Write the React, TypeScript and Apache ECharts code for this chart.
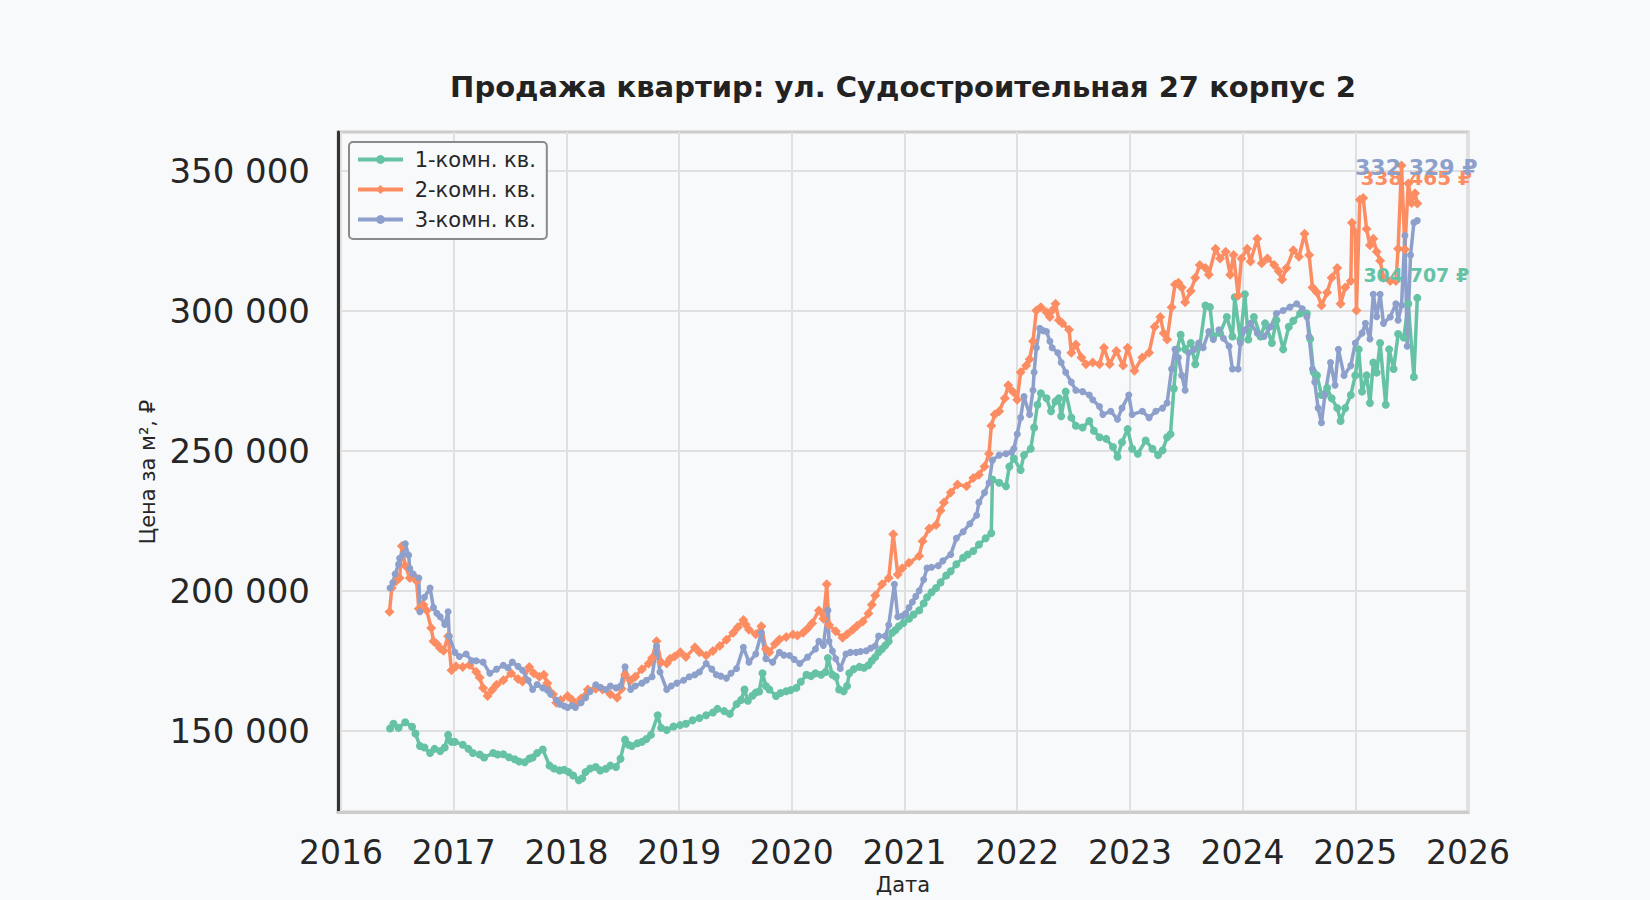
import React, { useEffect, useRef } from "react";
import * as echarts from "echarts";

const FONT = "DejaVu Sans";
const TITLE = "Продажа квартир: ул. Судостроительная 27 корпус 2";
const SERIES_NAMES = ["1-комн. кв.", "2-комн. кв.", "3-комн. кв."];
const COLORS = ["#66c2a5", "#fc8d62", "#8da0cb"];
const YEAR_TICKS = [2016, 2017, 2018, 2019, 2020, 2021, 2022, 2023, 2024, 2025, 2026];
const PRICE_TICKS = [150000, 200000, 250000, 300000, 350000];

// [decimal year, price per m²]
const oneRoom: [number, number][] = [
  [2016.435,150800],[2016.465,152500],[2016.51,151000],[2016.57,153000],[2016.63,151400],[2016.66,149000],[2016.70,144500],[2016.74,144000],[2016.79,142000],[2016.83,143500],[2016.88,142700],[2016.92,144000],[2016.95,148500],[2016.98,146000],[2017.01,146000],[2017.08,145000],[2017.13,143500],[2017.17,142000],[2017.23,141500],[2017.27,140400],[2017.35,142000],[2017.39,141500],[2017.44,141600],[2017.49,140500],[2017.54,139800],[2017.58,139000],[2017.63,138700],[2017.67,140000],[2017.70,140400],[2017.74,142000],[2017.79,143300],[2017.85,137500],[2017.89,136500],[2017.94,135800],[2017.98,136000],[2018.02,135200],[2018.06,134000],[2018.11,132300],[2018.14,133000],[2018.17,135200],[2018.21,136500],[2018.26,137000],[2018.30,135800],[2018.35,136400],[2018.39,137500],[2018.44,137000],[2018.48,140000],[2018.52,146800],[2018.55,145000],[2018.58,144500],[2018.63,145500],[2018.67,146000],[2018.71,147000],[2018.75,148500],[2018.81,155500],[2018.84,151000],[2018.89,150200],[2018.95,151500],[2019.01,152000],[2019.06,152500],[2019.12,153700],[2019.18,154500],[2019.24,155500],[2019.30,156500],[2019.34,157800],[2019.40,157000],[2019.45,156000],[2019.51,159500],[2019.55,161000],[2019.58,164700],[2019.61,160700],[2019.65,162500],[2019.68,163600],[2019.71,164000],[2019.74,170500],[2019.77,166000],[2019.80,164700],[2019.86,162400],[2019.90,163500],[2019.95,164100],[2019.99,164500],[2020.04,165300],[2020.08,167500],[2020.13,170000],[2020.17,169500],[2020.21,170500],[2020.26,170000],[2020.30,171000],[2020.32,176000],[2020.36,170000],[2020.39,169300],[2020.42,164700],[2020.46,164100],[2020.49,166000],[2020.51,170500],[2020.55,172000],[2020.60,172800],[2020.64,172500],[2020.68,173400],[2020.71,175000],[2020.74,176300],[2020.77,178000],[2020.80,179200],[2020.83,180500],[2020.86,182000],[2020.89,185000],[2020.92,186000],[2020.95,187300],[2020.99,188500],[2021.04,190000],[2021.08,191500],[2021.13,193000],[2021.17,195500],[2021.20,197700],[2021.24,199500],[2021.28,201000],[2021.32,203000],[2021.37,205500],[2021.41,207000],[2021.46,209500],[2021.52,211800],[2021.56,213000],[2021.61,214200],[2021.66,216500],[2021.72,218800],[2021.77,220600],[2021.78,239800],[2021.84,238600],[2021.90,237400],[2021.93,244400],[2021.97,247300],[2022.03,243200],[2022.06,248500],[2022.12,250800],[2022.15,258400],[2022.18,266500],[2022.21,270600],[2022.26,268800],[2022.30,264200],[2022.34,267700],[2022.37,268800],[2022.39,262400],[2022.43,271200],[2022.48,261900],[2022.52,259000],[2022.58,258400],[2022.64,260700],[2022.68,257200],[2022.73,254900],[2022.79,254300],[2022.85,251400],[2022.89,247900],[2022.93,253100],[2022.98,257800],[2023.02,250800],[2023.07,249000],[2023.14,253700],[2023.20,250800],[2023.25,248500],[2023.29,250200],[2023.33,254900],[2023.36,256000],[2023.39,272300],[2023.42,286300],[2023.45,291500],[2023.49,286300],[2023.54,288600],[2023.58,281000],[2023.62,287400],[2023.67,302000],[2023.71,301400],[2023.74,290900],[2023.80,292100],[2023.86,297900],[2023.91,290900],[2023.93,304900],[2023.98,289800],[2024.02,306000],[2024.05,289800],[2024.10,297900],[2024.16,290900],[2024.20,295600],[2024.26,288600],[2024.30,296700],[2024.36,286300],[2024.41,294400],[2024.45,296500],[2024.51,299100],[2024.57,299100],[2024.60,290000],[2024.63,278100],[2024.66,277000],[2024.70,270000],[2024.75,272500],[2024.79,268800],[2024.84,265300],[2024.87,260700],[2024.91,265300],[2024.96,270000],[2025.00,277000],[2025.03,286300],[2025.06,271200],[2025.10,277000],[2025.13,267100],[2025.16,281600],[2025.19,278000],[2025.22,288600],[2025.27,266500],[2025.30,286300],[2025.34,279300],[2025.38,291800],[2025.43,290500],[2025.47,302600],[2025.52,276400],[2025.55,304707],
];

const twoRoom: [number, number][] = [
  [2016.43,192500],[2016.45,201000],[2016.49,203500],[2016.52,204600],[2016.54,216000],[2016.57,209000],[2016.61,204600],[2016.64,205500],[2016.67,203500],[2016.69,193600],[2016.73,195000],[2016.76,193000],[2016.80,186700],[2016.82,182000],[2016.85,181000],[2016.88,179500],[2016.91,178600],[2016.95,183800],[2016.98,171600],[2017.02,173000],[2017.08,172800],[2017.14,173500],[2017.20,171000],[2017.23,169000],[2017.26,165300],[2017.30,162400],[2017.34,164500],[2017.38,166400],[2017.44,168000],[2017.51,170500],[2017.57,168500],[2017.61,167600],[2017.67,172800],[2017.71,170500],[2017.76,169300],[2017.80,170000],[2017.83,167000],[2017.88,163000],[2017.91,160000],[2017.95,161000],[2018.01,162400],[2018.05,161000],[2018.08,159500],[2018.13,161500],[2018.19,164700],[2018.26,165000],[2018.32,164700],[2018.39,163000],[2018.45,161800],[2018.49,165000],[2018.52,170000],[2018.57,168000],[2018.61,169300],[2018.67,172000],[2018.73,174000],[2018.76,176000],[2018.80,182000],[2018.84,174500],[2018.89,174000],[2018.92,175700],[2018.96,176500],[2019.01,178000],[2019.06,176300],[2019.14,179800],[2019.18,178000],[2019.24,176900],[2019.30,178500],[2019.36,180300],[2019.42,182500],[2019.48,185000],[2019.52,187000],[2019.57,189600],[2019.59,188000],[2019.62,186100],[2019.68,184500],[2019.73,187300],[2019.77,179200],[2019.80,178000],[2019.85,181000],[2019.89,182600],[2019.95,183500],[2020.01,184400],[2020.05,184000],[2020.10,185000],[2020.14,186500],[2020.18,188400],[2020.24,193000],[2020.28,190000],[2020.31,202300],[2020.33,187800],[2020.39,185500],[2020.45,183200],[2020.49,184500],[2020.54,186100],[2020.58,187500],[2020.63,189000],[2020.68,191900],[2020.71,195000],[2020.74,198300],[2020.80,202300],[2020.86,204600],[2020.90,220200],[2020.94,205800],[2020.98,208100],[2021.04,210000],[2021.13,212400],[2021.16,217700],[2021.22,222300],[2021.28,223500],[2021.32,228700],[2021.35,231600],[2021.41,235100],[2021.47,238000],[2021.55,237400],[2021.61,240300],[2021.66,241500],[2021.71,244400],[2021.75,249000],[2021.77,259000],[2021.80,263000],[2021.84,264200],[2021.89,268800],[2021.92,273500],[2021.96,271200],[2022.00,268300],[2022.03,278100],[2022.08,280500],[2022.11,282800],[2022.14,289200],[2022.17,300200],[2022.21,301400],[2022.26,299600],[2022.29,297900],[2022.31,300200],[2022.34,302600],[2022.37,296700],[2022.40,295600],[2022.46,293300],[2022.48,285100],[2022.52,288000],[2022.57,283400],[2022.61,281000],[2022.67,281600],[2022.73,281000],[2022.77,286900],[2022.82,281000],[2022.88,285700],[2022.94,280500],[2022.98,286900],[2023.04,278700],[2023.11,283400],[2023.17,285100],[2023.22,294400],[2023.27,297900],[2023.30,292100],[2023.33,289800],[2023.37,301400],[2023.40,309500],[2023.43,310100],[2023.46,308400],[2023.49,303100],[2023.54,307200],[2023.58,311900],[2023.62,316500],[2023.67,315400],[2023.70,313000],[2023.76,322300],[2023.80,318800],[2023.85,321200],[2023.89,313000],[2023.92,320000],[2023.96,305500],[2023.99,318800],[2024.04,322300],[2024.07,317700],[2024.13,325800],[2024.17,317100],[2024.22,318800],[2024.28,316500],[2024.32,314200],[2024.35,311300],[2024.39,315400],[2024.45,321700],[2024.50,319400],[2024.55,327600],[2024.59,320000],[2024.62,308400],[2024.66,306600],[2024.70,302000],[2024.75,306600],[2024.79,311900],[2024.84,315400],[2024.87,302600],[2024.91,308400],[2024.96,310700],[2024.97,331600],[2025.00,328100],[2025.01,300200],[2025.04,339800],[2025.07,340400],[2025.10,329300],[2025.13,323500],[2025.16,325800],[2025.19,321200],[2025.22,318000],[2025.25,311900],[2025.31,310700],[2025.36,310700],[2025.38,322300],[2025.41,352000],[2025.44,322000],[2025.47,345600],[2025.50,338600],[2025.53,342100],[2025.55,338465],
];

const threeRoom: [number, number][] = [
  [2016.435,201000],[2016.46,203000],[2016.48,206000],[2016.51,209500],[2016.52,211600],[2016.55,213000],[2016.57,216800],[2016.60,212700],[2016.61,208000],[2016.64,206000],[2016.69,204600],[2016.70,192500],[2016.74,197700],[2016.79,201000],[2016.82,194000],[2016.85,192000],[2016.88,190700],[2016.92,188000],[2016.95,192500],[2016.96,183800],[2017.01,178000],[2017.05,176500],[2017.11,177400],[2017.16,175000],[2017.20,175000],[2017.26,174500],[2017.32,170500],[2017.38,172000],[2017.44,173400],[2017.48,172500],[2017.52,174500],[2017.57,173000],[2017.61,171600],[2017.66,168000],[2017.70,164700],[2017.74,166500],[2017.79,165300],[2017.83,164500],[2017.86,163000],[2017.91,161000],[2017.94,159500],[2017.98,158800],[2018.01,158300],[2018.05,159000],[2018.08,158300],[2018.13,160000],[2018.17,161800],[2018.21,164000],[2018.26,166400],[2018.30,165500],[2018.35,164700],[2018.39,166000],[2018.44,165300],[2018.48,166000],[2018.52,172800],[2018.57,164700],[2018.61,166000],[2018.67,167000],[2018.71,168000],[2018.76,169300],[2018.80,180300],[2018.83,171000],[2018.89,164700],[2018.93,166000],[2018.98,167000],[2019.04,168000],[2019.09,169300],[2019.14,170000],[2019.18,171000],[2019.24,174000],[2019.29,172000],[2019.33,170000],[2019.37,169500],[2019.42,168800],[2019.46,170500],[2019.51,172200],[2019.57,179800],[2019.62,174500],[2019.68,177400],[2019.73,185000],[2019.77,175700],[2019.83,174500],[2019.89,178000],[2019.93,177000],[2019.98,176900],[2020.02,175500],[2020.07,174000],[2020.14,176300],[2020.21,179200],[2020.24,182000],[2020.28,180500],[2020.32,193000],[2020.33,182000],[2020.36,178500],[2020.39,175700],[2020.43,172200],[2020.48,177400],[2020.52,178000],[2020.57,178000],[2020.61,178300],[2020.66,178600],[2020.70,179500],[2020.74,180300],[2020.77,183800],[2020.83,183800],[2020.86,187800],[2020.91,202300],[2020.94,190700],[2020.98,191000],[2021.01,191900],[2021.04,194000],[2021.07,196000],[2021.10,198000],[2021.13,200000],[2021.17,204000],[2021.20,208100],[2021.24,208400],[2021.30,209000],[2021.34,210700],[2021.41,213000],[2021.46,218800],[2021.52,221100],[2021.58,224000],[2021.64,227000],[2021.66,231600],[2021.71,235100],[2021.75,238600],[2021.78,246700],[2021.84,248500],[2021.90,249000],[2021.95,249500],[2021.97,250800],[2022.00,256000],[2022.03,261900],[2022.06,269400],[2022.11,263000],[2022.14,271700],[2022.15,278100],[2022.17,286900],[2022.20,293800],[2022.23,293000],[2022.26,292700],[2022.29,289200],[2022.31,286900],[2022.36,285100],[2022.39,281600],[2022.43,278100],[2022.48,274600],[2022.52,271700],[2022.58,271200],[2022.64,270000],[2022.67,268300],[2022.73,265900],[2022.76,263000],[2022.83,264200],[2022.89,261300],[2022.93,265300],[2022.99,270000],[2023.02,263000],[2023.11,264200],[2023.17,261900],[2023.23,264200],[2023.29,265300],[2023.33,267100],[2023.37,279300],[2023.40,286300],[2023.43,283400],[2023.46,277000],[2023.49,271700],[2023.52,285100],[2023.57,286300],[2023.61,288600],[2023.65,286900],[2023.70,292700],[2023.74,289800],[2023.79,293300],[2023.83,290300],[2023.88,287400],[2023.91,279300],[2023.96,279300],[2023.98,288600],[2024.02,293300],[2024.07,295600],[2024.13,292100],[2024.19,290900],[2024.25,294400],[2024.30,299100],[2024.36,300200],[2024.42,301400],[2024.48,302600],[2024.53,300800],[2024.57,297900],[2024.59,290900],[2024.62,279300],[2024.64,274600],[2024.67,265300],[2024.70,260100],[2024.73,270000],[2024.78,281600],[2024.82,273500],[2024.85,286300],[2024.90,277000],[2024.96,280500],[2025.00,288600],[2025.06,292100],[2025.09,295600],[2025.13,290000],[2025.16,306000],[2025.19,298000],[2025.22,306000],[2025.25,295600],[2025.31,297900],[2025.36,302600],[2025.38,296700],[2025.41,302000],[2025.44,327000],[2025.46,287400],[2025.49,320000],[2025.52,331600],[2025.55,332329],
];

const SERIES_DATA = [oneRoom, twoRoom, threeRoom];
const SYMBOLS = ["circle", "diamond", "circle"];
const SYMBOL_SIZES = [8, 10, 7];
const END_LABEL_SIZES = [19, 20, 22];
const END_LABEL_OFFSETS: [number, number][] = [[-1, -23], [-1, -25], [-1, -53]];

function fmt(v: number): string {
  return String(Math.round(v)).replace(/\B(?=(\d{3})+(?!\d))/g, " ");
}

export default function App() {
  const ref = useRef<HTMLDivElement>(null);

  useEffect(() => {
    if (!ref.current) return;
    const chart = echarts.init(ref.current, undefined, { renderer: "svg" });

    const series = SERIES_DATA.map((arr, si) => ({
      type: "line",
      name: SERIES_NAMES[si],
      symbol: SYMBOLS[si],
      symbolSize: SYMBOL_SIZES[si],
      showSymbol: true,
      showAllSymbol: true,
      lineStyle: { width: 3.5, color: COLORS[si] },
      itemStyle: { color: COLORS[si] },
      emphasis: { disabled: true },
      data: arr.map((p, i) =>
        i === arr.length - 1
          ? {
              value: p,
              label: {
                show: true,
                position: "inside",
                offset: END_LABEL_OFFSETS[si],
                formatter: () => fmt(p[1]) + " ₽",
                color: COLORS[si],
                fontFamily: FONT,
                fontWeight: "bold",
                fontSize: END_LABEL_SIZES[si],
              },
            }
          : p
      ),
    }));

    chart.setOption({
      animation: false,
      backgroundColor: "#f8f9fa",
      textStyle: { fontFamily: FONT },
      title: {
        text: TITLE,
        left: 903,
        textAlign: "center",
        top: 72,
        padding: 0,
        textStyle: { fontFamily: FONT, fontWeight: "bold", fontSize: 29, color: "#222222" },
      },
      legend: {
        orient: "vertical",
        left: 349,
        top: 142,
        padding: [7, 11, 9, 7],
        itemWidth: 45,
        itemHeight: 11,
        itemGap: 9,
        backgroundColor: "#f8f9fa",
        borderColor: "#8a8a8a",
        borderWidth: 2,
        borderRadius: 4,
        data: SERIES_NAMES,
        lineStyle: { width: 4 },
        formatter: (n: string) => " " + n,
        textStyle: { fontFamily: FONT, fontSize: 21, color: "#262626" },
      },
      grid: {
        left: 338,
        right: 182,
        top: 132,
        bottom: 73,
        show: true,
        backgroundColor: "#f8f9fa",
        borderColor: "#cccccc",
        borderWidth: 3,
      },
      xAxis: {
        type: "value",
        min: 2015.973,
        max: 2026,
        name: "Дата",
        nameLocation: "middle",
        nameGap: 60,
        nameTextStyle: { fontFamily: FONT, fontSize: 21, color: "#262626" },
        axisLine: { show: true, lineStyle: { color: "#cccccc", width: 3 } },
        axisTick: { show: false, customValues: YEAR_TICKS },
        axisLabel: {
          customValues: YEAR_TICKS,
          formatter: (v: number) => String(Math.round(v)),
          fontFamily: FONT,
          fontSize: 33,
          color: "#262626",
          margin: 24,
        },
        splitLine: { show: true, lineStyle: { color: "#e0e0e0", width: 2 } },
      },
      yAxis: {
        type: "value",
        min: 120900,
        max: 364000,
        name: "Цена за м², ₽",
        nameLocation: "middle",
        nameGap: 180,
        nameTextStyle: { fontFamily: FONT, fontSize: 21, color: "#262626" },
        axisLine: { show: true, lineStyle: { color: "#333333", width: 3 } },
        axisTick: { show: false, customValues: PRICE_TICKS },
        axisLabel: {
          customValues: PRICE_TICKS,
          formatter: (v: number) => fmt(v),
          fontFamily: FONT,
          fontSize: 34,
          color: "#262626",
          margin: 28,
        },
        splitLine: { show: true, lineStyle: { color: "#e0e0e0", width: 2 } },
      },
      series,
    });

    return () => chart.dispose();
  }, []);

  return (
    <div
      ref={ref}
      style={{ position: "absolute", left: 0, top: 0, width: 1650, height: 900, background: "#f8f9fa" }}
    />
  );
}
